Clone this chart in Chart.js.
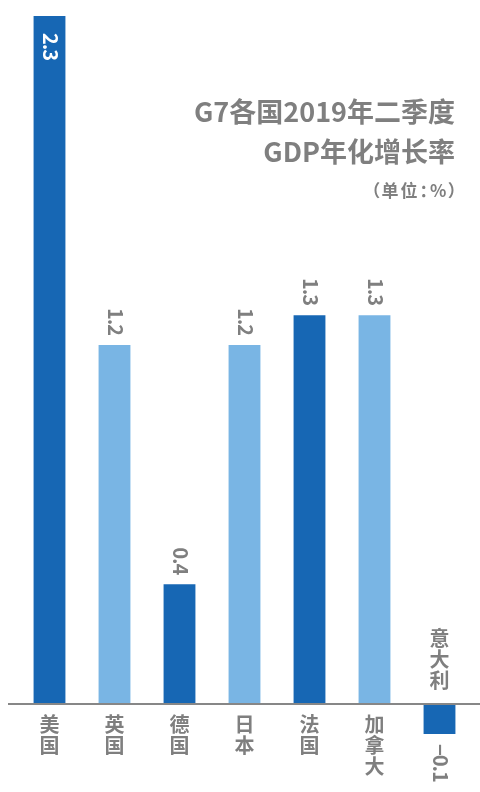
<!DOCTYPE html>
<html>
<head>
<meta charset="utf-8">
<script src="https://cdn.jsdelivr.net/npm/chart.js@4/dist/chart.umd.min.js"></script>
<style>
  html, body { margin: 0; padding: 0; background: #fff; }
  #wrap { position: relative; width: 480px; height: 792px; }
  #title {
    position: absolute; right: 25px; top: 91px;
    font-family: "Noto Sans CJK SC", "Noto Sans", sans-serif;
    font-weight: bold; font-size: 27px; line-height: 40px;
    color: #7f7f7f; text-align: right;
  }
  #unit {
    position: absolute; right: 21px; top: 179px;
    font-family: "Noto Sans CJK SC", "Noto Sans", sans-serif;
    font-weight: bold; font-size: 17px; line-height: 22px;
    font-feature-settings: "palt";
    letter-spacing: 2px;
    color: #7f7f7f; text-align: right;
  }
</style>
</head>
<body>
<div id="wrap">
  <canvas id="gdp-chart" width="480" height="792"></canvas>
  <div id="title">G7各国2019年二季度<br>GDP年化增长率</div>
  <div id="unit">（单位：%）</div>
</div>
<script>
// 数据
var countries = ['美国', '英国', '德国', '日本', '法国', '加拿大', '意大利'];
var growth = [2.3, 1.2, 0.4, 1.2, 1.3, 1.3, -0.1];
var valueLabels = ['2.3', '1.2', '0.4', '1.2', '1.3', '1.3', '−0.1'];

var darkBlue = '#1767b4';
var lightBlue = '#79b5e4';
var barColors = [darkBlue, lightBlue, darkBlue, lightBlue, darkBlue, lightBlue, darkBlue];
var grey = '#7f7f7f';
var fontFamily = '"Noto Sans CJK SC", "Noto Sans", sans-serif';

// 自己画零轴、数值和国家名
var labelPlugin = {
    id: 'labelPlugin',
    afterDatasetsDraw: function(chart) {
        var ctx = chart.ctx;
        var xScale = chart.scales.x;
        var yScale = chart.scales.y;
        var zeroY = yScale.getPixelForValue(0);

        // 零轴
        ctx.save();
        ctx.strokeStyle = '#878787';
        ctx.lineWidth = 2;
        ctx.beginPath();
        ctx.moveTo(8, zeroY);
        ctx.lineTo(chart.width, zeroY);
        ctx.stroke();
        ctx.restore();

        growth.forEach(function(v, i) {
            var cx = xScale.getPixelForValue(i);
            var topY = yScale.getPixelForValue(v);

            // 数值，竖排旋转
            ctx.save();
            ctx.font = 'bold 20px ' + fontFamily;
            ctx.letterSpacing = '-1px';
            ctx.textAlign = 'left';
            ctx.textBaseline = 'alphabetic';
            var w = ctx.measureText(valueLabels[i]).width;
            var startY;
            if (i === 0) {
                ctx.fillStyle = '#fff';
                startY = topY + 17;
            } else if (v < 0) {
                ctx.fillStyle = grey;
                startY = topY + 10;
            } else {
                ctx.fillStyle = grey;
                startY = topY - 10 - w;
            }
            ctx.translate(cx, startY);
            ctx.rotate(Math.PI / 2);
            ctx.fillText(valueLabels[i], 0, 7);
            ctx.restore();

            // 国家名，逐字竖排
            ctx.save();
            ctx.font = 'bold 20px ' + fontFamily;
            ctx.fillStyle = grey;
            ctx.textAlign = 'center';
            ctx.textBaseline = 'top';
            var chars = countries[i].split('');
            var pitch = 21;
            chars.forEach(function(ch, k) {
                var y;
                if (v < 0) {
                    y = zeroY - 13 - (chars.length - k) * pitch;
                } else {
                    y = zeroY + 10 + k * pitch;
                }
                ctx.fillText(ch, cx, y);
            });
            ctx.restore();
        });
    }
};

var ctx = document.getElementById('gdp-chart').getContext('2d');
var gdpChart = new Chart(ctx, {
    type: 'bar',
    data: {
        labels: countries,
        datasets: [{
            data: growth,
            backgroundColor: barColors,
            borderWidth: 0,
            categoryPercentage: 1,
            barPercentage: 0.49
        }]
    },
    options: {
        responsive: false,
        animation: false,
        devicePixelRatio: 1,
        layout: {
            padding: { left: 17, right: 8, top: 16, bottom: 0 }
        },
        scales: {
            x: { display: false },
            y: { display: false, min: -0.2942, max: 2.3 }
        },
        plugins: {
            legend: { display: false },
            tooltip: { enabled: false }
        }
    },
    plugins: [labelPlugin]
});
</script>
</body>
</html>
